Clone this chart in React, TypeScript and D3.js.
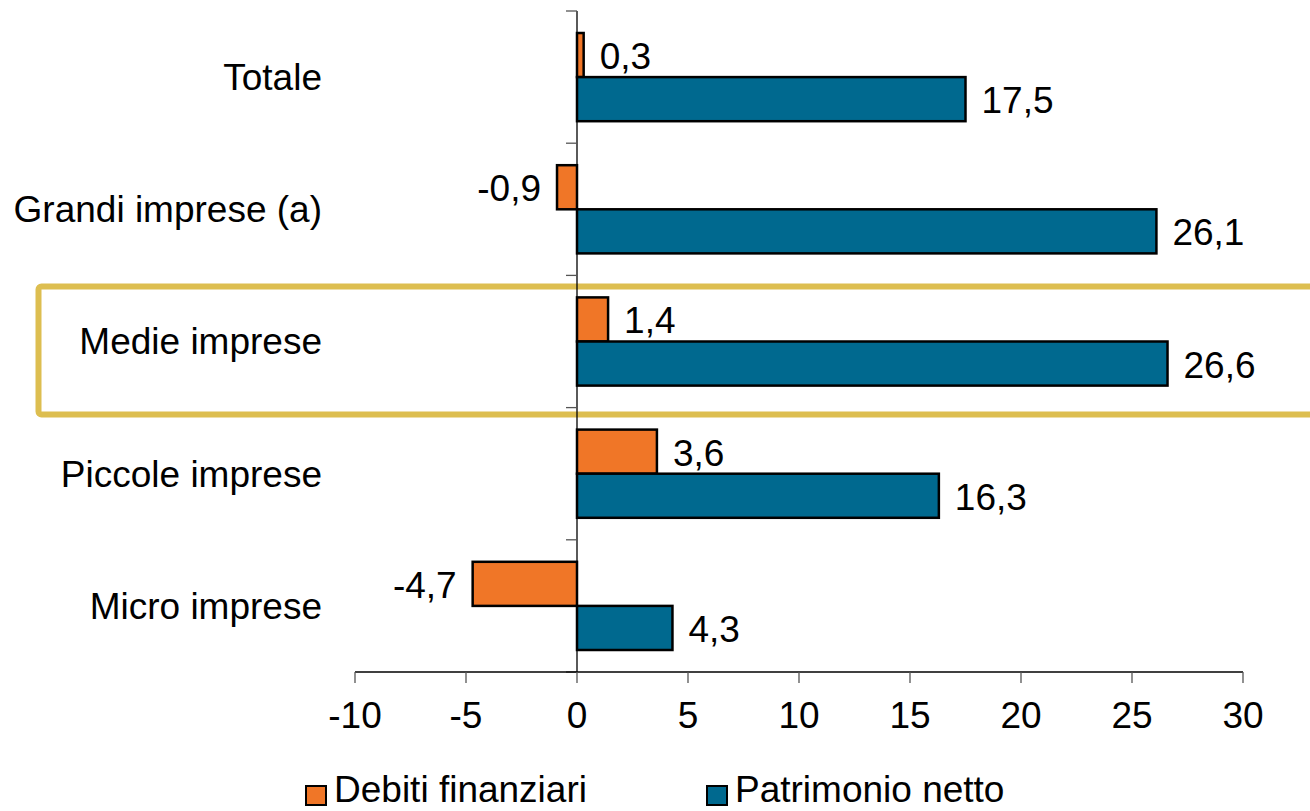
import React from "react";
import * as d3 from "d3";

const categories = ["Totale", "Grandi imprese (a)", "Medie imprese", "Piccole imprese", "Micro imprese"];
const debitiFinanziari = [0.3, -0.9, 1.4, 3.6, -4.7];
const patrimonioNetto = [17.5, 26.1, 26.6, 16.3, 4.3];
const seriesNames = ["Debiti finanziari", "Patrimonio netto"];
const xTicks = [-10, -5, 0, 5, 10, 15, 20, 25, 30];
const highlighted = "Medie imprese";

const W = 1310;
const H = 811;
const ORANGE = "#F07627";
const BLUE = "#00698F";
const FONT = "Liberation Sans, Arial, sans-serif";
const FS = 37;

export default function App() {
  const x = d3.scaleLinear().domain([-10, 30]).range([355, 1243]);
  const y = d3.scaleBand().domain(categories).range([11, 672]);
  const pad = 22;
  const barH = (y.bandwidth() - 2 * pad) / 2;
  const fmt = (v: number) => d3.format(".1f")(v).replace(".", ",").replace("−", "-");
  const x0 = x(0);
  const series = [debitiFinanziari, patrimonioNetto];
  const colors = [ORANGE, BLUE];
  const hy = y(highlighted)!;

  return (
    <svg width={W} height={H} style={{ position: "absolute", left: 0, top: 0 }} fontFamily={FONT}>
      <rect x={0} y={0} width={W} height={H} fill="#fff" />
      {/* highlight box */}
      <rect x={38.5} y={hy + 11} width={1300} height={128} rx={3} fill="none" stroke="#DDBE50" strokeWidth={6} />
      {/* y axis */}
      <line x1={x0} x2={x0} y1={11} y2={672} stroke="#000" strokeWidth={1.3} />
      {[...categories.map((c) => y(c)!), 672].map((t, i) => (
        <line key={"yt" + i} x1={x0 - 11} x2={x0} y1={t} y2={t} stroke="#555" strokeWidth={1.3} />
      ))}
      {categories.map((c) => (
        <text key={c} x={322} y={y(c)! + y.bandwidth() / 2} dy="0.35em" textAnchor="end" fontSize={FS} fill="#000">
          {c}
        </text>
      ))}
      {/* bars */}
      {series.map((vals, si) =>
        vals.map((v, i) => {
          const c = categories[i];
          const top = y(c)! + pad + si * barH;
          const x1 = Math.min(x(v), x0);
          const w = Math.abs(x(v) - x0);
          const lx = v >= 0 ? x(v) + 16 : x(v) - 16;
          return (
            <g key={si + "-" + i}>
              <rect x={x1} y={top} width={w} height={barH} fill={colors[si]} stroke="#000" strokeWidth={2.5} />
              <text x={lx} y={top + barH / 2 + 1} dy="0.35em" textAnchor={v >= 0 ? "start" : "end"} fontSize={FS} fill="#000">
                {fmt(v)}
              </text>
            </g>
          );
        })
      )}
      {/* x axis */}
      <line x1={x(-10)} x2={x(30)} y1={672} y2={672} stroke="#000" strokeWidth={1.3} />
      {xTicks.map((t) => (
        <g key={"xt" + t}>
          <line x1={x(t)} x2={x(t)} y1={672} y2={683} stroke="#555" strokeWidth={1.3} />
          <text x={x(t)} y={728} textAnchor="middle" fontSize={FS} fill="#000">
            {t}
          </text>
        </g>
      ))}
      {/* legend */}
      {seriesNames.map((n, i) => {
        const lx = i === 0 ? 306 : 707;
        return (
          <g key={n}>
            <rect x={lx} y={786} width={20} height={19} fill={colors[i]} stroke="#000" strokeWidth={2} />
            <text x={lx + 28} y={802} fontSize={FS} fill="#000">
              {n}
            </text>
          </g>
        );
      })}
    </svg>
  );
}
